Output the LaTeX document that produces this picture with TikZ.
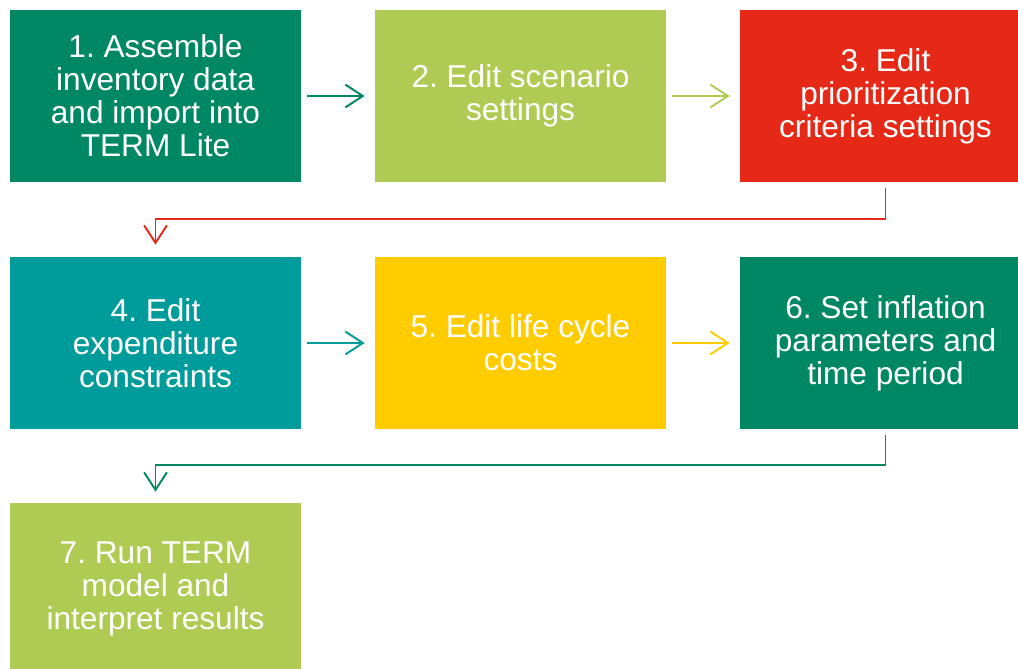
\documentclass[tikz,border=0pt]{standalone}
\usepackage{fontspec}
\setmainfont{Liberation Sans}
\usetikzlibrary{arrows.meta}
\frenchspacing

\definecolor{darkgreen}{RGB}{0,135,100}
\definecolor{lightgreen}{RGB}{176,203,84}
\definecolor{termred}{RGB}{230,40,22}
\definecolor{termteal}{RGB}{0,155,155}
\definecolor{termyellow}{RGB}{255,204,0}

\begin{document}
\begin{tikzpicture}[x=0.02cm,y=0.02cm,>={Straight Barb[length=10pt,width=13pt]},
  step box/.style={rectangle,minimum width=5.82cm,minimum height=3.44cm,inner sep=0pt,
    text=white,align=center,font=\fontsize{18}{18.8}\selectfont},
  flow/.style={->,line width=1.1pt,shorten <=0.12cm,shorten >=0.2cm}]

  \useasboundingbox (0,0) rectangle (1018,-669);

  \node[step box,fill=darkgreen]  (s1) at (155.5,-96)  {1. Assemble\\inventory data\\and import into\\TERM Lite};
  \node[step box,fill=lightgreen] (s2) at (520.5,-96)  {2. Edit scenario\\settings};
  \node[step box,fill=termred]    (s3) at (885.5,-96)  {3. Edit\\prioritization\\criteria settings};
  \node[step box,fill=termteal]   (s4) at (155.5,-343) {4. Edit\\expenditure\\constraints};
  \node[step box,fill=termyellow] (s5) at (520.5,-343) {5. Edit life cycle\\costs};
  \node[step box,fill=darkgreen]  (s6) at (885.5,-343) {6. Set inflation\\parameters and\\time period};
  \node[step box,fill=lightgreen] (s7) at (155.5,-589) {7. Run TERM\\model and\\interpret results};

  % row arrows
  \draw[flow,darkgreen]  (s1) -- (s2);
  \draw[flow,lightgreen] (s2) -- (s3);
  \draw[flow,termteal]   (s4) -- (s5);
  \draw[flow,termyellow] (s5) -- (s6);

  % back to the next row
  \draw[flow,termred,shorten >=0.24cm]   (s3.south) -- ++(0,-37) -| (s4.north);
  \draw[flow,darkgreen,shorten >=0.22cm] (s6.south) -- ++(0,-36) -| (s7.north);
\end{tikzpicture}
\end{document}
